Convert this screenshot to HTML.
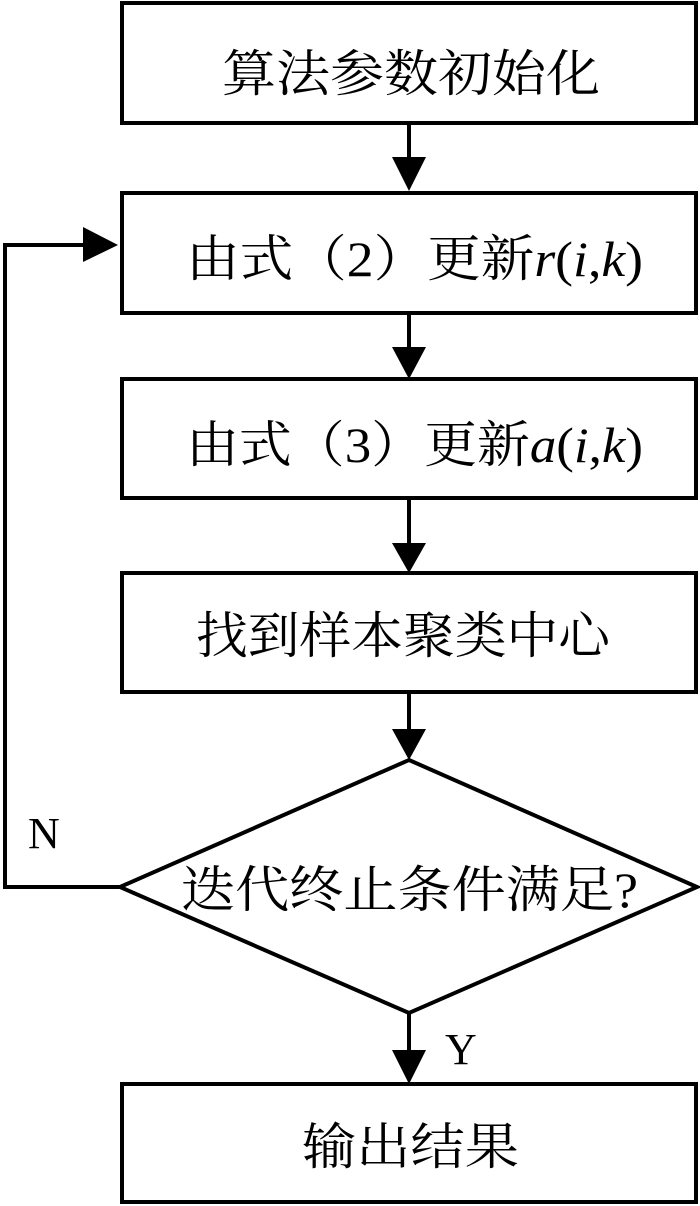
<!DOCTYPE html>
<html><head><meta charset="utf-8"><style>
html,body{margin:0;padding:0;background:#fff;}
svg{display:block;}
text{font-family:"Liberation Serif","Noto Serif CJK SC",serif;font-size:50px;fill:#000;}
</style></head><body>
<svg width="700" height="1206" viewBox="0 0 700 1206" xmlns="http://www.w3.org/2000/svg">
<g fill="none" stroke="#000" stroke-width="4">
<rect x="122" y="3" width="574" height="120"/>
<rect x="122" y="193" width="574" height="120"/>
<rect x="122" y="379" width="574" height="119"/>
<rect x="122" y="573" width="574" height="119"/>
<rect x="122" y="1084" width="574" height="118"/>
<polygon points="409,760 697,887 409,1013 120,887"/>
<line x1="409" y1="123" x2="409" y2="160"/>
<line x1="409" y1="313" x2="409" y2="350"/>
<line x1="409" y1="498" x2="409" y2="545"/>
<line x1="409" y1="692" x2="409" y2="732"/>
<line x1="409" y1="1013" x2="409" y2="1056"/>
<polyline points="120,887 5,887 5,245 86,245"/>
</g>
<g fill="#000">
<polygon points="392,157 426,157 409,191"/>
<polygon points="392,347 426,347 409,379"/>
<polygon points="392,543 426,543 409,573"/>
<polygon points="392,729 426,729 409,760"/>
<polygon points="392,1050 426,1050 409,1084"/>
<polygon points="83,227 83,262 118,245"/>
</g>
<text x="222" y="91" textLength="378" lengthAdjust="spacingAndGlyphs">算法参数初始化</text>
<text x="186" y="276" textLength="457" lengthAdjust="spacingAndGlyphs">由式（2）更新<tspan font-style="italic">r</tspan>(<tspan font-style="italic">i</tspan>,<tspan font-style="italic">k</tspan>)</text>
<text x="186" y="462" textLength="457" lengthAdjust="spacingAndGlyphs">由式（3）更新<tspan font-style="italic">a</tspan>(<tspan font-style="italic">i</tspan>,<tspan font-style="italic">k</tspan>)</text>
<text x="196" y="653" textLength="414" lengthAdjust="spacingAndGlyphs">找到样本聚类中心</text>
<text x="181" y="907" textLength="457" lengthAdjust="spacingAndGlyphs">迭代终止条件满足?</text>
<text x="302" y="1164" textLength="217" lengthAdjust="spacingAndGlyphs">输出结果</text>
<text x="28" y="848" style="font-size:44px">N</text>
<text x="445" y="1064" style="font-size:44px">Y</text>
</svg>
</body></html>
